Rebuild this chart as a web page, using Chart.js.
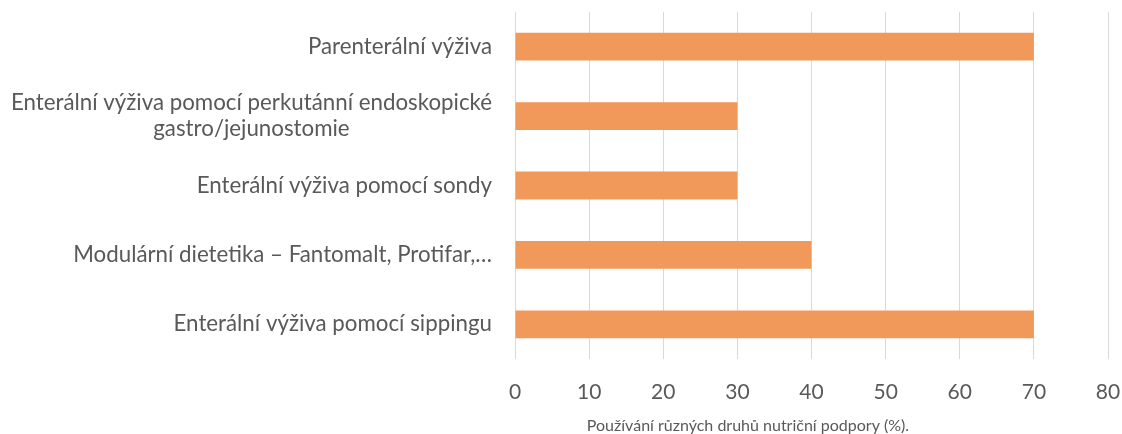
<!DOCTYPE html>
<html>
<head>
<meta charset="utf-8">
<script src="https://cdn.jsdelivr.net/npm/chart.js@4"></script>
<style>
  html, body { margin: 0; padding: 0; background: #fff; }
  #wrap { width: 1122px; height: 434px; }
</style>
</head>
<body>
<div id="wrap"><canvas id="chart" width="1122" height="434"></canvas></div>
<script>
const categories = [
  ['Parenterální výživa'],
  ['Enterální výživa pomocí perkutánní endoskopické', 'gastro/jejunostomie'],
  ['Enterální výživa pomocí sondy'],
  ['Modulární dietetika – Fantomalt, Protifar,…'],
  ['Enterální výživa pomocí sippingu']
]
const values = [70, 30, 30, 40, 70]
const xTicks = [0, 10, 20, 30, 40, 50, 60, 70, 80]
const axisTitle = 'Používání různých druhů nutriční podpory (%).'

const textColor = '#595959'
const fontFamily = 'Lato, "Open Sans", sans-serif'

// y labels: block right-aligned, lines centered to each other
// axis title sits left of the plot centre, like in the original
const labelPlugin = {
  id: 'labels',
  afterDraw(chart) {
    const ctx = chart.ctx
    const yScale = chart.scales.y
    const area = chart.chartArea
    ctx.save()
    ctx.font = '22.3px ' + fontFamily
    ctx.fillStyle = textColor
    ctx.textAlign = 'center'
    ctx.textBaseline = 'middle'
    const right = yScale.right - 23
    const lineH = 26
    categories.forEach((lines, i) => {
      const y = yScale.getPixelForTick(i)
      const w = Math.max(...lines.map(l => ctx.measureText(l).width))
      const cx = right - w / 2
      lines.forEach((line, j) => {
        ctx.fillText(line, cx, y + (j - (lines.length - 1) / 2) * lineH)
      })
    })

    ctx.font = '16px ' + fontFamily
    ctx.fillText(axisTitle, area.left + 233, area.bottom + 67)
    ctx.restore()
  }
}

new Chart(document.getElementById('chart'), {
  type: 'bar',
  data: {
    labels: categories,
    datasets: [{
      data: values,
      backgroundColor: '#F1995B',
      categoryPercentage: 1,
      barPercentage: 0.4
    }]
  },
  options: {
    indexAxis: 'y',
    responsive: false,
    animation: false,
    layout: { padding: { top: 12, right: 0, left: 0, bottom: 0 } },
    plugins: { legend: { display: false }, tooltip: { enabled: false } },
    scales: {
      x: {
        min: 0,
        max: 80,
        afterBuildTicks(scale) {
          scale.ticks = xTicks.map(v => ({ value: v }))
        },
        grid: { color: '#d9d9d9', lineWidth: 1, drawTicks: false },
        border: { display: false },
        ticks: {
          color: textColor,
          font: { family: fontFamily, size: 21 },
          padding: 21
        },
        afterFit(scale) {
          scale.height = 75
          scale.paddingLeft = 0
          scale.paddingRight = 14
        }
      },
      y: {
        grid: { display: false },
        border: { display: false },
        ticks: { display: false },
        afterFit(scale) { scale.width = 515 }
      }
    }
  },
  plugins: [labelPlugin]
})
</script>
</body>
</html>
